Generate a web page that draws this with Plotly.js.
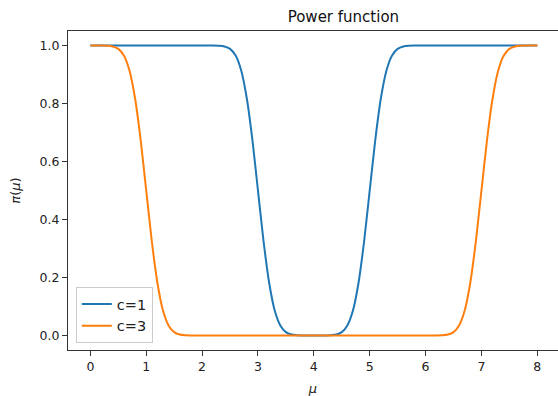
<!DOCTYPE html>
<html>
<head>
<meta charset="utf-8">
<script src="https://cdn.plot.ly/plotly-3.0.1.min.js"></script>
<style>html,body{margin:0;padding:0;background:#fff;}#chart{width:558px;height:396px;}</style>
</head>
<body>
<div id="chart"></div>
<script>
// mu grid (0 to 8, step 0.1)
const mu = [0,0.1,0.2,0.3,0.4,0.5,0.6,0.7,0.8,0.9,1,1.1,1.2,1.3,1.4,1.5,1.6,1.7,1.8,1.9,2,2.1,2.2,2.3,2.4,2.5,2.6,2.7,2.8,2.9,3,3.1,3.2,3.3,3.4,3.5,3.6,3.7,3.8,3.9,4,4.1,4.2,4.3,4.4,4.5,4.6,4.7,4.8,4.9,5,5.1,5.2,5.3,5.4,5.5,5.6,5.7,5.8,5.9,6,6.1,6.2,6.3,6.4,6.5,6.6,6.7,6.8,6.9,7,7.1,7.2,7.3,7.4,7.5,7.6,7.7,7.8,7.9,8];

// power, c = 1
const powerC1 = [
  1,1,1,1,1,1,1,1,1,1,            // 0.0 - 0.9
  1,1,1,1,1,1,1,1,1,1,            // 1.0 - 1.9
  1,1,1,0.9993,0.9968,0.9885,0.9655,0.914,0.818,0.675,   // 2.0 - 2.9
  0.5,0.325,0.182,0.086,0.0345,0.0115,0.0032,0.0007,0,0, // 3.0 - 3.9
  0,0,0,0.0007,0.0032,0.0115,0.0345,0.086,0.182,0.325,   // 4.0 - 4.9
  0.5,0.675,0.818,0.914,0.9655,0.9885,0.9968,0.9993,1,1, // 5.0 - 5.9
  1,1,1,1,1,1,1,1,1,1,            // 6.0 - 6.9
  1,1,1,1,1,1,1,1,1,1,            // 7.0 - 7.9
  1                               // 8.0
];

// power, c = 3
const powerC3 = [
  1,1,1,0.9993,0.9968,0.9885,0.9655,0.914,0.818,0.675,   // 0.0 - 0.9
  0.5,0.325,0.182,0.086,0.0345,0.0115,0.0032,0.0007,0,0, // 1.0 - 1.9
  0,0,0,0,0,0,0,0,0,0,            // 2.0 - 2.9
  0,0,0,0,0,0,0,0,0,0,            // 3.0 - 3.9
  0,0,0,0,0,0,0,0,0,0,            // 4.0 - 4.9
  0,0,0,0,0,0,0,0,0,0,            // 5.0 - 5.9
  0,0,0,0.0007,0.0032,0.0115,0.0345,0.086,0.182,0.325,   // 6.0 - 6.9
  0.5,0.675,0.818,0.914,0.9655,0.9885,0.9968,0.9993,1,1, // 7.0 - 7.9
  1                               // 8.0
];

const seriesNames = ["c=1", "c=3"];
const xTicks = [0,1,2,3,4,5,6,7,8];
const yTicks = [0,0.2,0.4,0.6,0.8,1.0];

const font = {family: "DejaVu Sans", size: 12.5, color: "#222"};

const traces = [
  {x: mu, y: powerC1, name: seriesNames[0], mode: "lines",
   line: {color: "#1f77b4", width: 2, shape: "spline", smoothing: 0.6}},
  {x: mu, y: powerC3, name: seriesNames[1], mode: "lines",
   line: {color: "#ff7f0e", width: 2, shape: "spline", smoothing: 0.6}}
];

const layout = {
  width: 558, height: 396,
  margin: {l: 68, r: 0, t: 31, b: 46, pad: 0},
  paper_bgcolor: "#fff", plot_bgcolor: "#fff",
  font: font,
  showlegend: true,
  title: {text: "Power function", font: {family: "DejaVu Sans", size: 15, color: "#111"},
          x: 0.562, xref: "paper", xanchor: "center", y: 0.958, yref: "container", yanchor: "middle"},
  xaxis: {range: [-0.4, 8.37], tickvals: xTicks, ticktext: xTicks.map(String),
          showgrid: false, zeroline: false, showline: true, mirror: true,
          linecolor: "#333", linewidth: 1, ticks: "outside", ticklen: 5, tickcolor: "#333",
          tickfont: font,
          title: {text: "<i>μ</i>", font: {family: "DejaVu Sans", size: 13, color: "#222"}, standoff: 11}},
  yaxis: {range: [-0.05, 1.05], tickvals: yTicks, ticktext: yTicks.map(v => v.toFixed(1)),
          showgrid: false, zeroline: false, showline: true, mirror: false,
          linecolor: "#333", linewidth: 1, ticks: "outside", ticklen: 5, tickcolor: "#333",
          tickfont: font,
          title: {text: "<i>π</i>(<i>μ</i>)", font: {family: "DejaVu Sans", size: 13, color: "#222"}, standoff: 16}},
  legend: {x: 0.016, y: 0.022, xanchor: "left", yanchor: "bottom",
           bgcolor: "rgba(255,255,255,0.85)", bordercolor: "#ccc", borderwidth: 1,
           font: {family: "DejaVu Sans", size: 14.5, color: "#222"},
           tracegroupgap: 2, itemwidth: 30}
};

Plotly.newPlot("chart", traces, layout, {staticPlot: true, displayModeBar: false});
</script>
</body>
</html>
